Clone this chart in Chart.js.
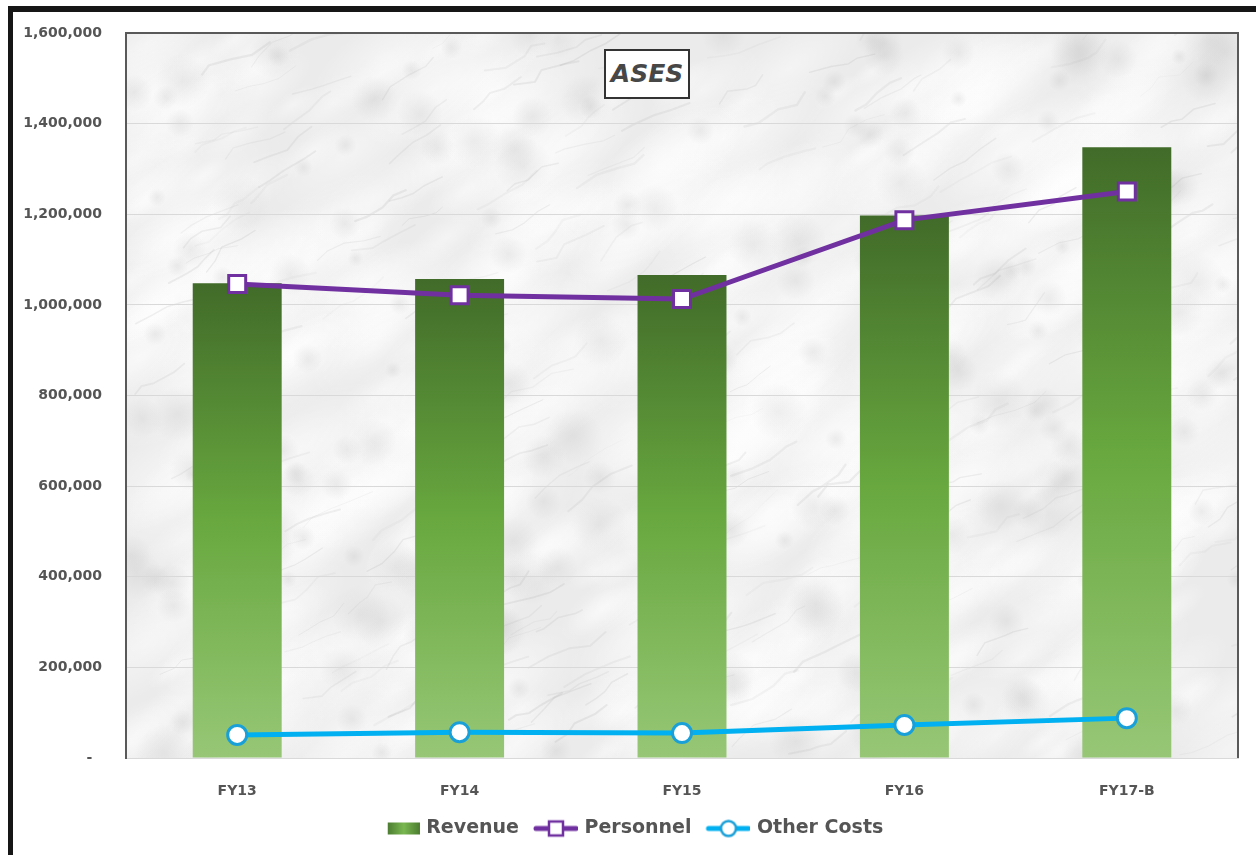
<!DOCTYPE html>
<html>
<head>
<meta charset="utf-8">
<script src="https://cdn.jsdelivr.net/npm/chart.js@4.4.1/dist/chart.umd.min.js"></script>
<style>
  body { margin: 0; background: #fff; }
  #wrap { position: relative; width: 1256px; height: 855px; overflow: hidden; }
  #frame { position: absolute; left: 8px; top: 6px; width: 1400px; height: 1000px;
           border-top: 6px solid #161616; border-left: 5px solid #161616; pointer-events: none; }
  #title { position: absolute; left: 604px; top: 49px; width: 86px; height: 50px; box-sizing: border-box;
           border: 2px solid #333; background: #fff; color: #474747; text-align: center;
           font: italic bold 25px "DejaVu Sans"; line-height: 46px; }
</style>
</head>
<body>
<div id="wrap">
  <canvas id="chart" width="1256" height="855"></canvas>
  <div id="frame"></div>
  <div id="title">ASES</div>
</div>
<script>
const categories = ['FY13', 'FY14', 'FY15', 'FY16', 'FY17-B'];
const revenue = [1048000, 1057000, 1066000, 1197000, 1348000];
const personnel = [1046000, 1021000, 1013000, 1187000, 1250000];
const otherCosts = [51000, 57000, 55000, 73000, 88000];
const yTicks = [0, 200000, 400000, 600000, 800000, 1000000, 1200000, 1400000, 1600000];

const purple = '#7030a0';
const cyan = '#00b0f0';

Chart.defaults.font.family = 'DejaVu Sans';
Chart.defaults.font.weight = 'bold';
Chart.defaults.color = '#555555';

// soft marble-ish texture for the plot area (decoration only)
function hash(n) {
    const s = Math.sin(n * 127.1 + 311.7) * 43758.5453;
    return s - Math.floor(s);
}
let marble = null;
function makeMarble(w, h) {
    const c = document.createElement('canvas');
    c.width = w; c.height = h;
    const g = c.getContext('2d');
    g.fillStyle = '#ebebeb';
    g.fillRect(0, 0, w, h);
    // light patches
    for (let i = 0; i < 500; i++) {
        const x = hash(i) * w, y = hash(i + 1000) * h;
        const r = 15 + hash(i + 2000) * 50;
        g.save();
        g.translate(x, y);
        g.rotate(-0.6);
        g.scale(1.7, 0.7);
        const rg = g.createRadialGradient(0, 0, 0, 0, 0, r);
        rg.addColorStop(0, 'rgba(255,255,255,0.45)');
        rg.addColorStop(1, 'rgba(255,255,255,0)');
        g.fillStyle = rg;
        g.beginPath(); g.arc(0, 0, r, 0, Math.PI * 2); g.fill();
        g.restore();
    }
    // grey clouds
    for (let i = 0; i < 220; i++) {
        const x = hash(i + 7000) * w, y = hash(i + 8000) * h;
        const r = 8 + hash(i + 9000) * 22;
        const rg = g.createRadialGradient(x, y, 0, x, y, r);
        rg.addColorStop(0, 'rgba(170,170,170,0.18)');
        rg.addColorStop(1, 'rgba(170,170,170,0)');
        g.fillStyle = rg;
        g.beginPath(); g.arc(x, y, r, 0, Math.PI * 2); g.fill();
    }
    // faint veins
    g.lineCap = 'round';
    for (let i = 0; i < 220; i++) {
        let x = hash(i + 3000) * w, y = hash(i + 4000) * h;
        g.strokeStyle = 'rgba(150,150,150,' + (0.05 + hash(i + 5000) * 0.1) + ')';
        g.lineWidth = 0.8 + hash(i + 6000) * 1.6;
        g.beginPath(); g.moveTo(x, y);
        for (let k = 0; k < 4; k++) {
            x += 6 + hash(i * 7 + k) * 16;
            y -= 2 + hash(i * 11 + k + 50) * 12;
            g.lineTo(x, y);
        }
        g.stroke();
    }
    return c;
}

const plotBackground = {
    id: 'plotBackground',
    beforeDraw(chart) {
        const a = chart.chartArea, ctx = chart.ctx;
        if (!marble) marble = makeMarble(Math.ceil(a.right - a.left), Math.ceil(a.bottom - a.top));
        ctx.drawImage(marble, a.left, a.top);
    },
    beforeDatasetsDraw(chart) {
        const a = chart.chartArea, ctx = chart.ctx;
        ctx.save();
        ctx.strokeStyle = '#595959';
        ctx.lineWidth = 2;
        ctx.beginPath();
        ctx.moveTo(a.left, a.top); ctx.lineTo(a.right, a.top); ctx.lineTo(a.right, a.bottom);
        ctx.stroke();
        ctx.restore();
    }
};

function barGradient(ctx, top, bottom) {
    const g = ctx.createLinearGradient(0, top, 0, bottom);
    g.addColorStop(0, '#416b29');
    g.addColorStop(0.5, '#68a83f');
    g.addColorStop(1, '#97c776');
    return g;
}

// legend icons
function icon(kind) {
    const c = document.createElement('canvas');
    c.width = 52; c.height = 20;
    const g = c.getContext('2d');
    if (kind === 'bar') {
        const lg = g.createLinearGradient(20, 0, 52, 0);
        lg.addColorStop(0, '#4d7d31'); lg.addColorStop(0.5, '#7ab851'); lg.addColorStop(1, '#4d7d31');
        g.fillStyle = lg;
        g.fillRect(20, 4, 32, 12);
    } else {
        const col = kind === 'rect' ? purple : cyan;
        g.strokeStyle = col; g.lineWidth = 5; g.lineCap = 'round';
        g.beginPath(); g.moveTo(10, 10); g.lineTo(50, 10); g.stroke();
        g.fillStyle = '#fff'; g.lineWidth = 2.5;
        g.strokeStyle = kind === 'rect' ? purple : '#1aa0d8';
        g.beginPath();
        if (kind === 'rect') g.rect(23, 3, 14, 14); else g.arc(30, 10, 7.5, 0, Math.PI * 2);
        g.fill(); g.stroke();
    }
    return c;
}
const legendIcons = [icon('bar'), icon('rect'), icon('circle')];

new Chart(document.getElementById('chart'), {
    type: 'bar',
    data: {
        labels: categories,
        datasets: [
            {
                type: 'bar', label: 'Revenue', data: revenue, order: 3,
                barPercentage: 0.4, categoryPercentage: 1.0,
                backgroundColor(c) {
                    const chart = c.chart;
                    if (!chart.chartArea || c.type !== 'data') return '#70ad47';
                    const y = chart.scales.y;
                    return barGradient(chart.ctx, y.getPixelForValue(c.raw), y.getPixelForValue(0));
                }
            },
            {
                type: 'line', label: 'Personnel', data: personnel, order: 2,
                borderColor: purple, borderWidth: 5, tension: 0,
                pointStyle: 'rect', pointRadius: 12, pointHoverRadius: 12,
                pointBackgroundColor: '#fff', pointBorderColor: purple, pointBorderWidth: 3
            },
            {
                type: 'line', label: 'Other Costs', data: otherCosts, order: 1,
                borderColor: cyan, borderWidth: 5, tension: 0,
                pointStyle: 'circle', pointRadius: 9.5, pointHoverRadius: 9.5,
                pointBackgroundColor: '#fff', pointBorderColor: '#1aa0d8', pointBorderWidth: 3
            }
        ]
    },
    options: {
        responsive: false,
        devicePixelRatio: 1,
        animation: false,
        layout: { padding: { top: 33, right: 18, bottom: 7, left: 16 } },
        scales: {
            x: {
                grid: { display: false },
                border: { color: '#d9d9d9', width: 1 },
                ticks: { padding: 17, font: { size: 14 } },
                afterFit(scale) { scale.height = 51; }
            },
            y: {
                min: 0, max: 1600000,
                afterBuildTicks(scale) { scale.ticks = yTicks.map(v => ({ value: v })); },
                grid: { color: '#d9d9d9', lineWidth: 1, drawTicks: false },
                border: { color: '#595959', width: 2 },
                ticks: {
                    padding: 24, font: { size: 14 },
                    callback: v => v === 0 ? '-  ' : v.toLocaleString('en-US')
                },
                afterFit(scale) { scale.width = 110; }
            }
        },
        plugins: {
            tooltip: { enabled: false },
            legend: {
                position: 'bottom',
                labels: {
                    usePointStyle: true,
                    pointStyleWidth: 46,
                    padding: 10,
                    font: { size: 19 },
                    color: '#555555',
                    generateLabels(chart) {
                        return chart.data.datasets.map((d, i) => ({
                            text: d.label,
                            pointStyle: legendIcons[i],
                            fillStyle: 'transparent',
                            strokeStyle: 'transparent',
                            lineWidth: 0,
                            fontColor: '#555555',
                            datasetIndex: i
                        }));
                    }
                }
            }
        }
    },
    plugins: [plotBackground]
});
</script>
</body>
</html>
